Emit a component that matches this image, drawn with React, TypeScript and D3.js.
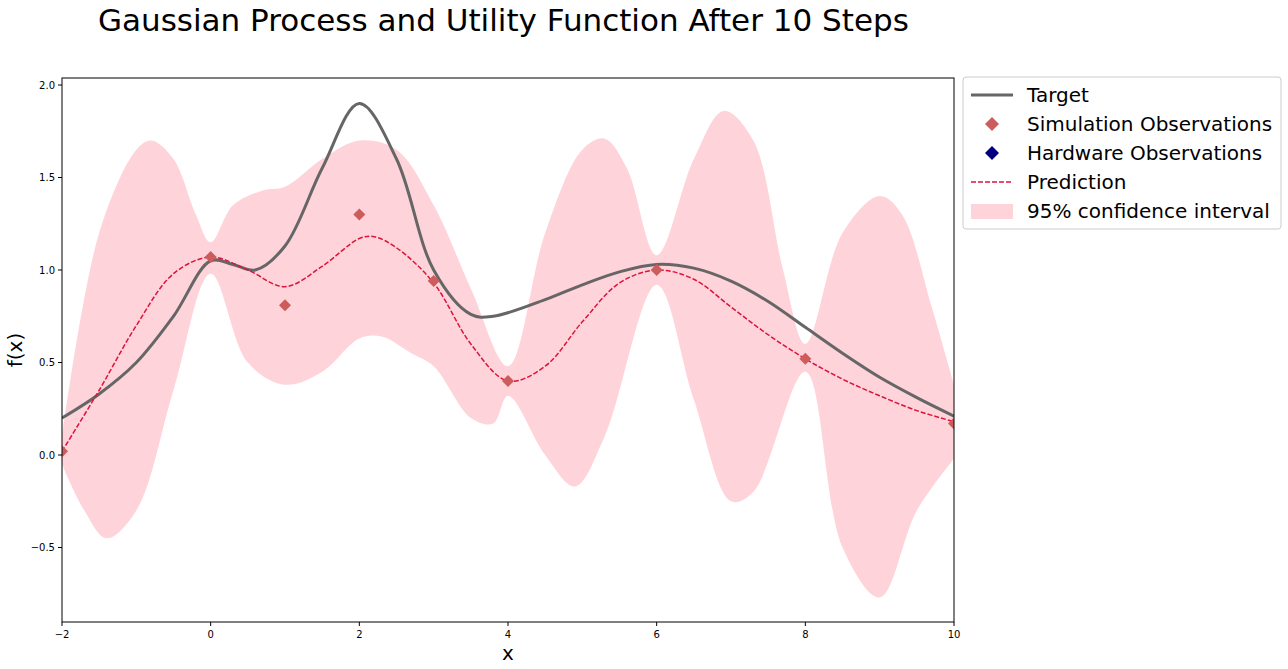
import React from 'react';
import * as d3 from 'd3';

const targetX = [-2, -1.5, -1, -0.5, 0, 0.3, 0.6, 1, 1.5, 2, 2.5, 3, 3.5, 3.8, 4.5, 5, 5.5, 6, 6.5, 7, 7.5, 8, 8.5, 9, 9.5, 10];
const targetY = [0.2, 0.33, 0.5, 0.75, 1.05, 1.03, 1.0, 1.13, 1.55, 1.9, 1.6, 1.0, 0.76, 0.75, 0.84, 0.92, 0.99, 1.03, 1.01, 0.94, 0.83, 0.69, 0.55, 0.42, 0.31, 0.21];

const predX = [-2, -1.5, -1, -0.5, 0, 0.5, 1, 1.5, 2, 2.2, 2.5, 3, 3.5, 4, 4.5, 5, 5.5, 6, 6.5, 7, 7.5, 8, 8.5, 9, 9.5, 10];
const predY = [0.02, 0.35, 0.7, 0.98, 1.07, 1.0, 0.91, 1.02, 1.17, 1.18, 1.12, 0.93, 0.6, 0.4, 0.48, 0.72, 0.93, 1.0, 0.95, 0.8, 0.65, 0.52, 0.41, 0.32, 0.24, 0.18];

const upperX = [-2, -1.5, -1, -0.8, -0.5, -0.2, 0, 0.3, 0.7, 1, 1.5, 2, 2.5, 3, 3.5, 4, 4.5, 5, 5.3, 5.6, 6, 6.5, 6.9, 7.3, 7.7, 8, 8.5, 9, 9.3, 9.7, 10];
const upperY = [0.1, 1.2, 1.65, 1.7, 1.6, 1.3, 1.15, 1.35, 1.43, 1.45, 1.6, 1.7, 1.65, 1.35, 0.9, 0.48, 1.2, 1.65, 1.71, 1.55, 1.08, 1.6, 1.86, 1.7, 1.0, 0.6, 1.2, 1.4, 1.3, 0.8, 0.38];

const lowerX = [-2, -1.7, -1.4, -1, -0.5, 0, 0.5, 1, 1.5, 2, 2.3, 2.7, 3, 3.5, 3.8, 4, 4.5, 4.9, 5.3, 6, 6.5, 7, 7.3, 8, 8.5, 9, 9.5, 10];
const lowerY = [-0.05, -0.3, -0.45, -0.3, 0.35, 0.98, 0.5, 0.38, 0.45, 0.63, 0.64, 0.55, 0.48, 0.2, 0.17, 0.32, 0.0, -0.17, 0.1, 0.92, 0.3, -0.25, -0.2, 0.45, -0.5, -0.77, -0.3, -0.02];

const obsX = [-2, 0, 1, 2, 3, 4, 6, 8, 10];
const obsY = [0.02, 1.07, 0.81, 1.3, 0.94, 0.4, 1.0, 0.52, 0.17];

const xTicks = [-2, 0, 2, 4, 6, 8, 10];
const yTicks = [-0.5, 0, 0.5, 1, 1.5, 2];

const W = 1288, H = 669;
const left = 62, right = 954, top = 78, bottom = 622;

export default function App() {
  const x = d3.scaleLinear().domain([-2, 10]).range([left, right]);
  const y = d3.scaleLinear().domain([0, 1]).range([455, 270]);
  const line = d3.line<[number, number]>().x(d => x(d[0])).y(d => y(d[1])).curve(d3.curveCatmullRom);
  const zip = (a: number[], b: number[]) => a.map((v, i) => [v, b[i]] as [number, number]);
  const up = line(zip(upperX, upperY)) as string;
  const lo = line(zip(lowerX, lowerY).reverse()) as string;
  const band = up + 'L' + lo.slice(1) + 'Z';
  const diamond = (cx: number, cy: number, r: number) => `M${cx},${cy - r}L${cx + r},${cy}L${cx},${cy + r}L${cx - r},${cy}Z`;
  const font = 'DejaVu Sans, sans-serif';
  const legend = [
    { label: 'Target', kind: 'line' },
    { label: 'Simulation Observations', kind: 'sim' },
    { label: 'Hardware Observations', kind: 'hw' },
    { label: 'Prediction', kind: 'dash' },
    { label: '95% confidence interval', kind: 'band' },
  ];
  return (
    <svg width={W} height={H} style={{ position: 'absolute', left: 0, top: 0, fontFamily: font }}>
      <rect width={W} height={H} fill="#fff" />
      <text x={98} y={31} fontSize={31}>Gaussian Process and Utility Function After 10 Steps</text>
      <defs>
        <clipPath id="clip"><rect x={left} y={top} width={right - left} height={bottom - top} /></clipPath>
      </defs>
      <g clipPath="url(#clip)">
        <path d={band} fill="#ffb6c1" opacity={0.6} />
        <path d={line(zip(targetX, targetY)) as string} fill="none" stroke="#666" strokeWidth={3} />
        <path d={line(zip(predX, predY)) as string} fill="none" stroke="crimson" strokeWidth={1.5} strokeDasharray="5,2" />
        {obsX.map((v, i) => <path key={i} d={diamond(x(v), y(obsY[i]), 6)} fill="#cd5c5c" />)}
      </g>
      <rect x={left} y={top} width={right - left} height={bottom - top} fill="none" stroke="#000" strokeWidth={1} />
      {xTicks.map(t => (
        <g key={t}>
          <line x1={x(t)} x2={x(t)} y1={bottom} y2={bottom + 4} stroke="#000" />
          <text x={x(t)} y={bottom + 16} fontSize={10} textAnchor="middle">{t < 0 ? '\u2212' + Math.abs(t) : t}</text>
        </g>
      ))}
      {yTicks.map(t => (
        <g key={t}>
          <line x1={left - 4} x2={left} y1={y(t)} y2={y(t)} stroke="#000" />
          <text x={left - 7} y={y(t) + 3.5} fontSize={10} textAnchor="end">{(t < 0 ? '\u2212' : '') + Math.abs(t).toFixed(1)}</text>
        </g>
      ))}
      <text x={(left + right) / 2} y={660} fontSize={20} textAnchor="middle">x</text>
      <text transform={`translate(22,${(top + bottom) / 2}) rotate(-90)`} fontSize={20} textAnchor="middle">f(x)</text>
      <rect x={963} y={77} width={318} height={152} rx={3} fill="#fff" stroke="#ccc" />
      {legend.map((l, i) => {
        const cy = 95 + i * 29;
        return (
          <g key={l.label}>
            {l.kind === 'line' && <line x1={971} x2={1013} y1={cy} y2={cy} stroke="#666" strokeWidth={3} />}
            {l.kind === 'dash' && <line x1={971} x2={1013} y1={cy} y2={cy} stroke="crimson" strokeWidth={1.5} strokeDasharray="5,2" />}
            {l.kind === 'sim' && <path d={diamond(992, cy, 7)} fill="#cd5c5c" />}
            {l.kind === 'hw' && <path d={diamond(992, cy, 7)} fill="#000080" />}
            {l.kind === 'band' && <rect x={971} y={cy - 7} width={42} height={15} fill="#ffb6c1" opacity={0.6} />}
            <text x={1027} y={cy + 7} fontSize={20}>{l.label}</text>
          </g>
        );
      })}
    </svg>
  );
}
